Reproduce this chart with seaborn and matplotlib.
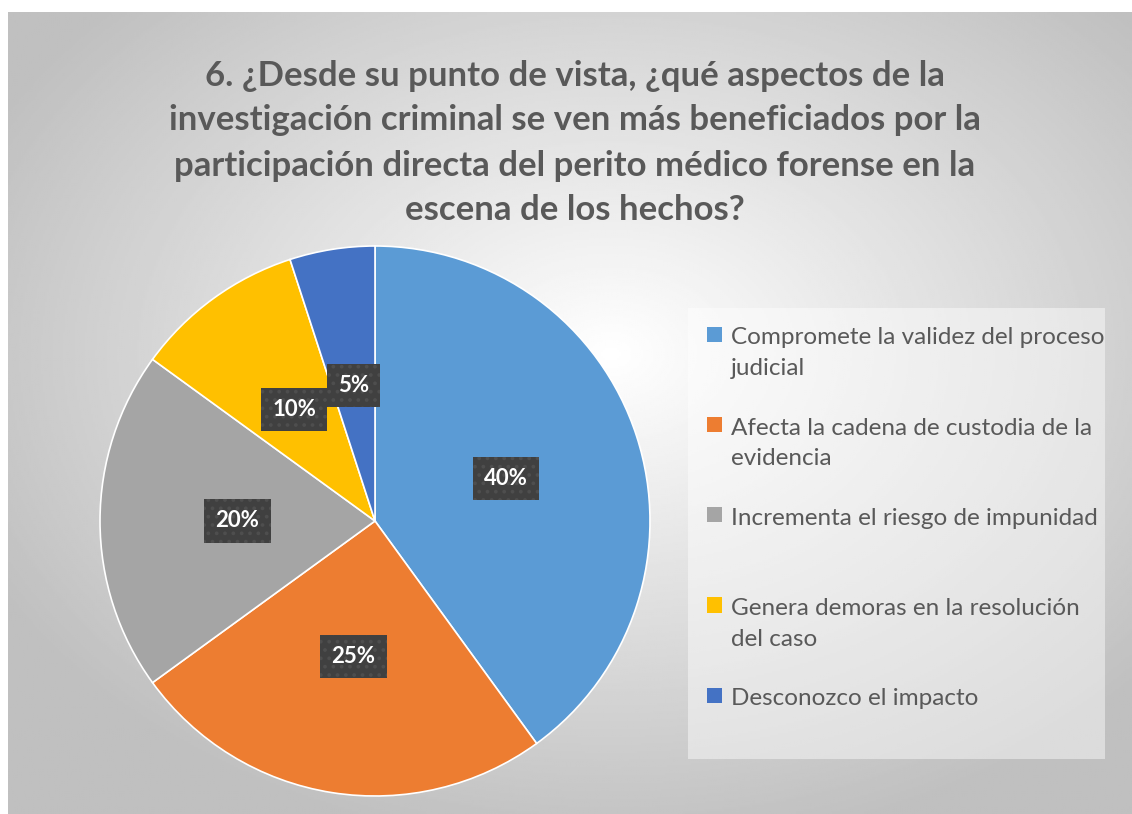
import numpy as np
import matplotlib.pyplot as plt
import seaborn as sns

# data
categories = [
    "Compromete la validez del proceso\njudicial",
    "Afecta la cadena de custodia de la\nevidencia",
    "Incrementa el riesgo de impunidad\n",
    "Genera demoras en la resolución\ndel caso",
    "Desconozco el impacto\n",
]
shares = [40, 25, 20, 10, 5]
colors = ["#5B9BD5", "#ED7D31", "#A5A5A5", "#FFC000", "#4472C4"]
title = ("6. ¿Desde su punto de vista, ¿qué aspectos de la\n"
         "investigación criminal se ven más beneficiados por la\n"
         "participación directa del perito médico forense en la\n"
         "escena de los hechos?")

sns.set_theme(style="white")
plt.rcParams['font.family'] = ['Lato', 'DejaVu Sans']
plt.rcParams['hatch.linewidth'] = 1.5

W, H = 1132, 814
fig = plt.figure(figsize=(W / 100, H / 100), dpi=100)
fig.patch.set_facecolor('white')

# radial gray background of the chart area
bg = fig.add_axes([8 / W, 0, 1 - 8 / W, 1 - 12 / H])
yy, xx = np.mgrid[0:400, 0:560]
r = np.hypot((xx - 300) / 560, (yy - 170) / 400)
grad = np.clip(1.0 - r * 0.40, 0.75, 1.0)
bg.imshow(grad, cmap='gray', vmin=0, vmax=1, aspect='auto',
          extent=[0, 1, 0, 1], origin='upper')
bg.set_axis_off()

fig.text(575 / W, 1 - 143 / H, title, ha='center', va='center',
         fontsize=25, fontweight='bold', color='#595959', linespacing=1.5)

ax = fig.add_axes([(375 - 275) / W, 1 - (521 + 275) / H, 550 / W, 550 / H])
wedges, _, autotexts = ax.pie(
    shares, colors=colors, startangle=90, counterclock=False,
    autopct='%d%%', pctdistance=0.5,
    wedgeprops=dict(edgecolor='white', linewidth=1.2),
    textprops=dict(color='white', fontsize=16, fontweight='bold'))
for t in autotexts:
    t.set_bbox(dict(boxstyle='square,pad=0.5', facecolor='#404040',
                    edgecolor='#4e4e4e', hatch='..', linewidth=0))
ax.set_xlim(-1, 1)
ax.set_ylim(-1, 1)
ax.set_aspect('equal')

leg = fig.legend(
    wedges, categories, loc='upper left',
    bbox_to_anchor=(688 / W, 1 - 308 / H, (1105 - 688) / W, 0),
    mode='expand', frameon=True, fontsize=17.5, labelcolor='#595959',
    handlelength=0.6, handleheight=0.6, handletextpad=0.35,
    labelspacing=1.6, borderpad=0.8, fancybox=False, borderaxespad=0)
for t in leg.get_texts():
    t.set_linespacing(1.55)
leg.get_frame().set_facecolor('white')
leg.get_frame().set_alpha(0.45)
leg.get_frame().set_linewidth(0)
# put the colour squares next to the first line of each label
for h in leg.legend_handles:
    h.set_edgecolor('none')
    h.set_y(h.get_y() + 13.5)

fig.savefig('out.png', dpi=100)
